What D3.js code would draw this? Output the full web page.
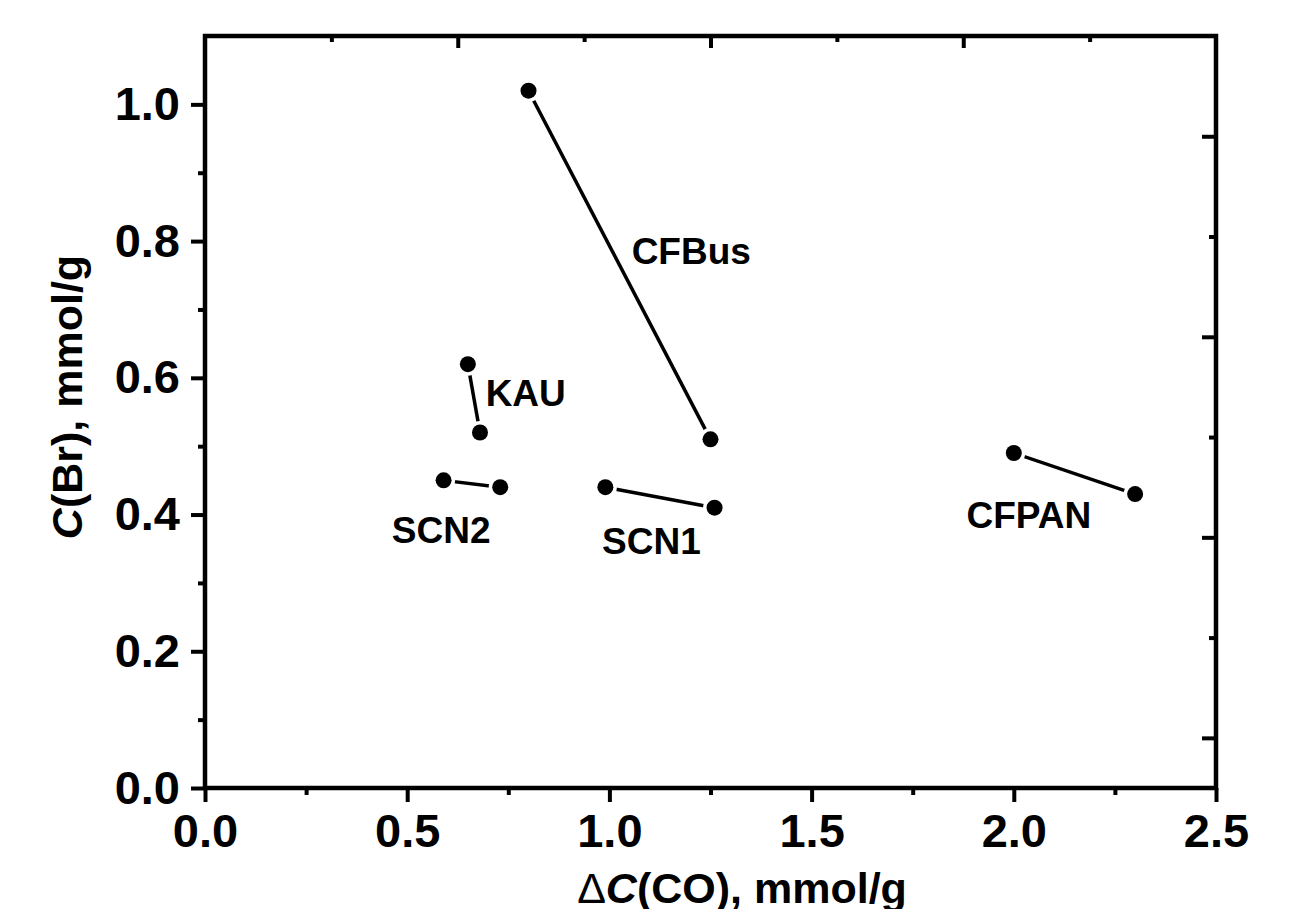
<!DOCTYPE html>
<html>
<head>
<meta charset="utf-8">
<script src="https://cdn.jsdelivr.net/npm/d3@7"></script>
<style>
  body { margin: 0; background: #fff; }
  svg { font-family: "Liberation Sans", Arial, sans-serif; font-weight: bold; }
</style>
</head>
<body>
<div id="chart"></div>
<script>
(() => {
  // each sample: two measured points joined by a line
  const samples = ['CFBus', 'KAU', 'SCN2', 'SCN1', 'CFPAN']
  const deltaCO = [[0.80, 1.25], [0.65, 0.68], [0.59, 0.73], [0.99, 1.26], [2.00, 2.30]]
  const cBr = [[1.02, 0.51], [0.62, 0.52], [0.45, 0.44], [0.44, 0.41], [0.49, 0.43]]
  // label anchors in data units (left edge, baseline)
  const labelX = [1.055, 0.694, 0.462, 0.982, 1.883]
  const labelY = [0.767, 0.559, 0.359, 0.343, 0.381]

  const xTicks = [0.0, 0.5, 1.0, 1.5, 2.0, 2.5]
  const yTicks = [0.0, 0.2, 0.4, 0.6, 0.8, 1.0]

  const width = 1289
  const height = 909
  const plot = { left: 205, right: 1216, top: 36, bottom: 788 }
  const tickFont = 47

  const svg = d3.select('#chart')
    .append('svg')
      .attr('width', width)
      .attr('height', height)

  const xScale = d3.scaleLinear().domain([0, 2.5]).range([plot.left, plot.right])
  const yScale = d3.scaleLinear().domain([0, 1.1]).range([plot.bottom, plot.top])
  // the top and right frame carry their own unlabeled tick sets
  const topScale = d3.scaleLinear().domain([0, 4]).range([plot.left, plot.right])
  const rightScale = d3.scaleLinear().domain([-0.25, 3.5]).range([plot.bottom, plot.top])

  const styleAxis = g => {
    g.select('.domain').remove()
    g.selectAll('.tick line').attr('stroke', '#000').attr('stroke-width', 4)
    g.selectAll('.tick text')
      .attr('fill', '#000')
      .attr('font-size', tickFont)
      .attr('font-family', '"Liberation Sans", Arial, sans-serif')
      .attr('font-weight', 'bold')
  }

  const fmt = d3.format('.1f')

  // bottom
  svg.append('g')
    .attr('transform', `translate(0,${plot.bottom})`)
    .call(d3.axisBottom(xScale).tickValues(d3.range(0.25, 2.5, 0.5)).tickSize(7).tickFormat(''))
    .call(styleAxis)
  svg.append('g')
    .attr('transform', `translate(0,${plot.bottom})`)
    .call(d3.axisBottom(xScale).tickValues(xTicks).tickSize(14).tickPadding(12).tickFormat(fmt))
    .call(styleAxis)

  // left
  svg.append('g')
    .attr('transform', `translate(${plot.left},0)`)
    .call(d3.axisLeft(yScale).tickValues(d3.range(0.1, 1.1, 0.2)).tickSize(7).tickFormat(''))
    .call(styleAxis)
  svg.append('g')
    .attr('transform', `translate(${plot.left},0)`)
    .call(d3.axisLeft(yScale).tickValues(yTicks).tickSize(14).tickPadding(11).tickFormat(fmt))
    .call(styleAxis)

  // top
  svg.append('g')
    .attr('transform', `translate(0,${plot.top})`)
    .call(d3.axisTop(topScale).tickValues([0.5, 1.5, 2.5, 3.5]).tickSize(-6).tickFormat(''))
    .call(styleAxis)
  svg.append('g')
    .attr('transform', `translate(0,${plot.top})`)
    .call(d3.axisTop(topScale).tickValues([1, 2, 3]).tickSize(-12).tickFormat(''))
    .call(styleAxis)

  // right
  svg.append('g')
    .attr('transform', `translate(${plot.right},0)`)
    .call(d3.axisRight(rightScale).tickValues([0.5, 1.5, 2.5]).tickSize(-7).tickFormat(''))
    .call(styleAxis)
  svg.append('g')
    .attr('transform', `translate(${plot.right},0)`)
    .call(d3.axisRight(rightScale).tickValues([0, 1, 2, 3]).tickSize(-14).tickFormat(''))
    .call(styleAxis)

  // frame
  svg.append('rect')
    .attr('x', plot.left)
    .attr('y', plot.top)
    .attr('width', plot.right - plot.left)
    .attr('height', plot.bottom - plot.top)
    .attr('fill', 'none')
    .attr('stroke', '#000')
    .attr('stroke-width', 4.5)

  const series = samples.map((name, i) => ({
    name,
    points: deltaCO[i].map((x, j) => [x, cBr[i][j]]),
    lx: labelX[i],
    ly: labelY[i]
  }))

  const line = d3.line()
    .x(d => xScale(d[0]))
    .y(d => yScale(d[1]))

  const groups = svg.append('g').selectAll('g')
    .data(series)
    .join('g')

  groups.append('path')
    .attr('d', d => line(d.points))
    .attr('fill', 'none')
    .attr('stroke', '#000')
    .attr('stroke-width', 3.5)

  // white halo makes the gap between line and symbol
  groups.selectAll('circle.halo')
    .data(d => d.points)
    .join('circle')
      .attr('class', 'halo')
      .attr('cx', d => xScale(d[0]))
      .attr('cy', d => yScale(d[1]))
      .attr('r', 11.5)
      .attr('fill', '#fff')

  groups.selectAll('circle.dot')
    .data(d => d.points)
    .join('circle')
      .attr('class', 'dot')
      .attr('cx', d => xScale(d[0]))
      .attr('cy', d => yScale(d[1]))
      .attr('r', 8)
      .attr('fill', '#000')

  groups.append('text')
    .attr('x', d => xScale(d.lx))
    .attr('y', d => yScale(d.ly))
    .attr('font-size', 37)
    .attr('fill', '#000')
    .text(d => d.name)

  // axis titles (the reference crops the bottom of this line too)
  const xTitle = svg.append('text')
    .attr('x', 742)
    .attr('y', 903)
    .attr('text-anchor', 'middle')
    .attr('font-size', 43)
  xTitle.append('tspan').attr('font-weight', 'normal').text('Δ')
  xTitle.append('tspan').attr('font-style', 'italic').text('C')
  xTitle.append('tspan').text('(CO), mmol/g')

  const yTitle = svg.append('text')
    .attr('transform', 'translate(82,397) rotate(-90)')
    .attr('text-anchor', 'middle')
    .attr('font-size', 43)
  yTitle.append('tspan').attr('font-style', 'italic').text('C')
  yTitle.append('tspan').text('(Br), mmol/g')
})()
</script>
</body>
</html>
